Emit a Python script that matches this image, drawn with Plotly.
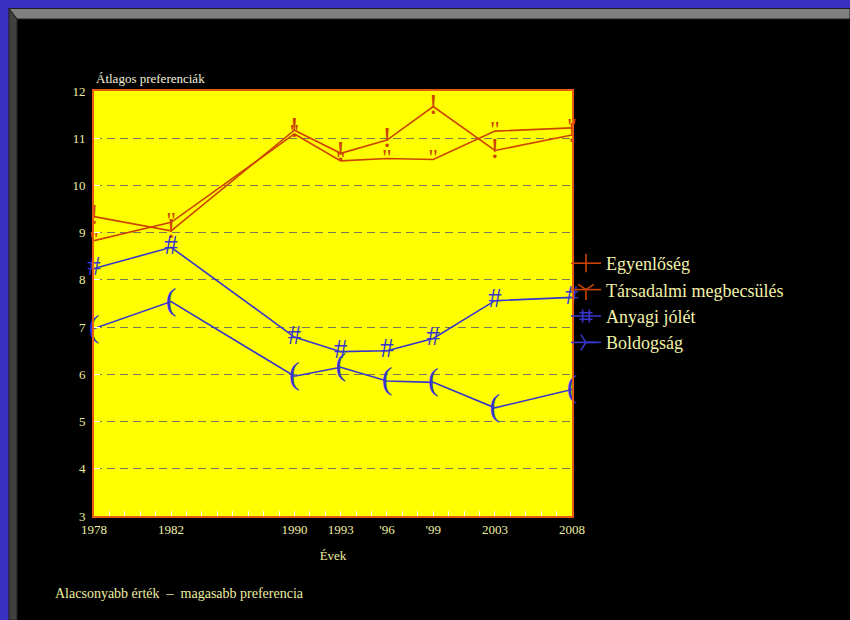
import plotly.graph_objects as go

# ---- data ----
survey_x = [1977, 1982, 1990, 1993, 1996, 1999, 2003, 2008]
year_labels = ["1978", "1982", "1990", "1993", "'96", "'99", "2003", "2008"]

egyenloseg = [9.34, 9.04, 11.17, 10.68, 10.96, 11.67, 10.74, 11.07]
tarsadalmi = [8.83, 9.22, 11.09, 10.52, 10.57, 10.55, 11.15, 11.22]
anyagi = [8.24, 8.69, 6.79, 6.48, 6.50, 6.76, 7.56, 7.63]
boldogsag = [6.97, 7.54, 5.96, 6.15, 5.86, 5.83, 5.29, 5.68]

series_names = ["Egyenlőség", "Társadalmi megbecsülés", "Anyagi jólét", "Boldogság"]
y_ticks = [3, 4, 5, 6, 7, 8, 9, 10, 11, 12]

RED = "#CC4400"
BLUE = "#3636CC"
TXT = "#EDEDA0"
FONT = "Liberation Serif"

W, H = 850, 620
ML, MR, MT, MB = 94, 278, 91, 104
PW, PH = W - ML - MR, H - MT - MB


def px(x):
    return (x - ML) / PW


def py(y):
    return (H - MB - y) / PH


series = [
    (series_names[0], egyenloseg, RED, "line-ns-open", "!", 29),
    (series_names[1], tarsadalmi, RED, "y-down-open", '"', 24),
    (series_names[2], anyagi, BLUE, "hash-open", "#", 27),
    (series_names[3], boldogsag, BLUE, "y-right-open", "(", 32),
]

fig = go.Figure()
for name, vals, col, sym, glyph, gsize in series:
    # data line
    fig.add_trace(go.Scatter(
        x=survey_x, y=vals, name=name, mode="lines",
        line=dict(color=col, width=1.6),
        cliponaxis=False, legendgroup=name, showlegend=False,
    ))
    # glyph markers drawn as text characters
    fig.add_trace(go.Scatter(
        x=survey_x, y=vals, name=name, mode="text", text=[glyph] * len(vals),
        textposition="middle center",
        textfont=dict(family=FONT, size=gsize, color=col),
        showlegend=False, cliponaxis=False, legendgroup=name, hoverinfo="skip",
    ))
    # legend entry
    fig.add_trace(go.Scatter(
        x=[None], y=[None], name=name, mode="lines+markers",
        line=dict(color=col, width=1.6),
        marker=dict(symbol=sym, size=13, color=col, line=dict(color=col, width=1.6)),
        legendgroup=name, showlegend=True,
    ))

shapes = [
    dict(type="rect", x0=px(0), x1=px(W), y0=py(0), y1=py(8.5), fillcolor="#3730C0", line_width=0),
    dict(type="rect", x0=px(0), x1=px(9), y0=py(0), y1=py(H), fillcolor="#3730C0", line_width=0),
    dict(type="path",
         path=f"M{px(9)},{py(8.5)} L{px(W)},{py(8.5)} L{px(W)},{py(19)} L{px(17)},{py(19)} Z",
         fillcolor="#808080", line=dict(color="#202020", width=1)),
    dict(type="path",
         path=f"M{px(9)},{py(8.5)} L{px(17)},{py(19)} L{px(17)},{py(H)} L{px(9)},{py(H)} Z",
         fillcolor="#404040", line=dict(color="#202020", width=1)),
]
for s in shapes:
    s.update(xref="paper", yref="paper", layer="below")

fig.update_layout(
    width=W, height=H, autosize=False,
    margin=dict(l=ML, r=MR, t=MT, b=MB, pad=0),
    paper_bgcolor="black", plot_bgcolor="#FFFF00",
    font=dict(family=FONT, color=TXT, size=13),
    showlegend=True,
    legend=dict(x=px(566), y=py(245), xanchor="left", yanchor="top",
                font=dict(family=FONT, size=18, color="#F2F2A8"),
                bgcolor="rgba(0,0,0,0)", tracegroupgap=0),
    shapes=shapes,
    annotations=[
        dict(text="Átlagos preferenciák", xref="paper", yref="paper", x=px(94), y=py(79),
             xanchor="left", yanchor="middle", showarrow=False,
             font=dict(family=FONT, size=13, color="#F0F0D8")),
        dict(text="Alacsonyabb érték  –  magasabb preferencia", xref="paper", yref="paper",
             x=px(53), y=py(593), xanchor="left", yanchor="middle", showarrow=False,
             font=dict(family=FONT, size=14, color=TXT)),
    ],
    xaxis=dict(
        range=[1977, 2008], tickvals=survey_x, ticktext=year_labels,
        ticks="inside", ticklen=5, tickcolor="white", tickwidth=1,
        minor=dict(ticks="inside", dtick=1, tick0=1977, ticklen=5, tickcolor="white", showgrid=False),
        showgrid=False, zeroline=False,
        showline=True, mirror=True, linecolor="#E85A10", linewidth=2,
        tickfont=dict(family=FONT, size=13, color=TXT),
        title=dict(text="Évek", font=dict(family=FONT, size=13, color=TXT), standoff=15),
    ),
    yaxis=dict(
        range=[3, 12], tickvals=y_ticks,
        ticks="inside", ticklen=6, tickcolor="white", tickwidth=1,
        showgrid=True, gridcolor="#7A7A58", griddash="8px,5px", gridwidth=1.2,
        zeroline=False,
        showline=True, mirror=True, linecolor="#E85A10", linewidth=2,
        tickfont=dict(family=FONT, size=13, color=TXT),
        ticklabelstandoff=4,
    ),
)

fig.write_html(
    "out.html",
    config={"displayModeBar": False},
    post_script="document.body.style.margin='0';document.body.style.overflow='hidden';",
)
